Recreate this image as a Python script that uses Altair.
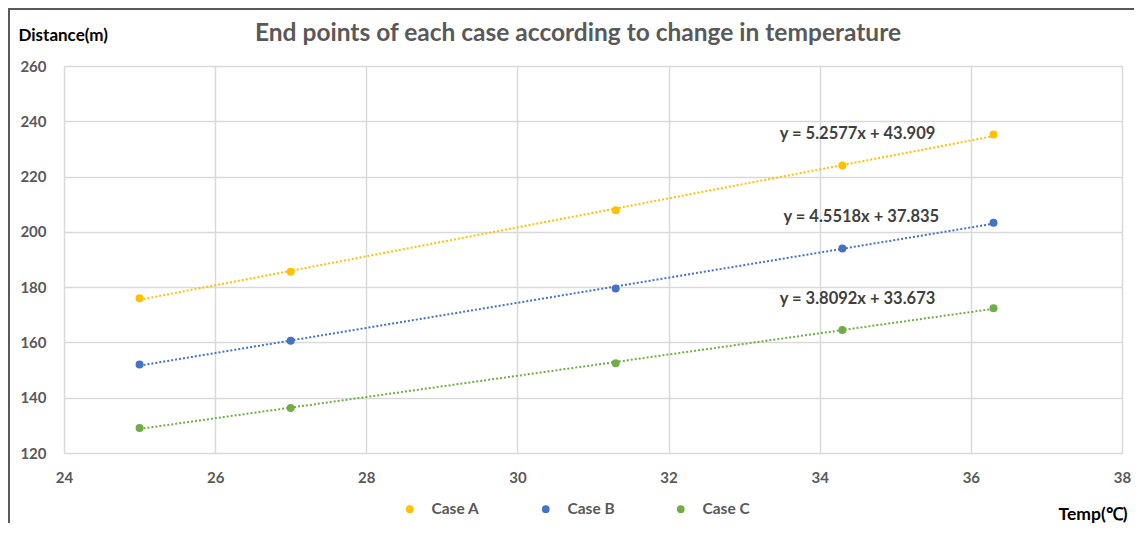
import altair as alt
import pandas as pd

# ---- data ----
cases = ["Case A", "Case B", "Case C"]
temps = [25, 27, 31.3, 34.3, 36.3]
case_a = [176, 185.6, 207.8, 224.0, 235.2]
case_b = [152, 160.6, 179.5, 194.0, 203.3]
case_c = [129, 136.3, 152.5, 164.5, 172.4]
colors = ["#FFC000", "#4472C4", "#70AD47"]

eq_labels = ["y = 5.2577x + 43.909", "y = 4.5518x + 37.835", "y = 3.8092x + 33.673"]
eq_x = [34.5, 34.55, 34.5]
eq_y = [235.5, 205.5, 175.8]

x_ticks = [24, 26, 28, 30, 32, 34, 36, 38]
y_ticks = [120, 140, 160, 180, 200, 220, 240, 260]

rows = []
for name, vals in zip(cases, [case_a, case_b, case_c]):
    for t, v in zip(temps, vals):
        rows.append({"case": name, "temp": t, "dist": v})
df = pd.DataFrame(rows)
eq_df = pd.DataFrame({"case": cases, "ex": eq_x, "ey": eq_y, "label": eq_labels})

FONT = "Lato"
LABEL_COLOR = "#595959"

xscale = alt.Scale(domain=[24, 38], nice=False, zero=False)
yscale = alt.Scale(domain=[120, 260], nice=False, zero=False)
cscale = alt.Scale(domain=cases, range=colors)

x_axis = alt.Axis(
    values=x_ticks, title="Temp(℃)", grid=True, gridColor="#d9d9d9", gridWidth=1.5,
    domain=False, ticks=False, labelFont=FONT, labelFontSize=15, labelFontWeight="bold",
    labelColor=LABEL_COLOR, labelPadding=17, labelFlush=False, titleFont=FONT, titleFontSize=17.5,
    titleFontWeight="bold", titleColor="#000000", titleX=1063, titleY=61,
    titleAlign="right", titleBaseline="middle", titleAnchor="end",
)
y_axis = alt.Axis(
    values=y_ticks, title="Distance(m)", grid=True, gridColor="#d9d9d9", gridWidth=1.5,
    domain=False, ticks=False, labelFont=FONT, labelFontSize=15, labelFontWeight="bold",
    labelColor=LABEL_COLOR, labelPadding=18, labelFlush=False, titleFont=FONT, titleFontSize=17,
    titleFontWeight="bold", titleColor="#000000", titleAngle=0, titleX=-46, titleY=-31,
    titleAlign="left", titleBaseline="middle",
)
legend = alt.Legend(
    title=None, orient="none", direction="horizontal", legendX=338, legendY=435,
    symbolType="circle", symbolSize=60, labelFont=FONT, labelFontSize=15.5,
    labelFontWeight="bold", labelColor=LABEL_COLOR, labelOffset=14,
    columnPadding=58, symbolStrokeWidth=0,
)

X = alt.X("temp:Q", scale=xscale, axis=x_axis, title="Temp(℃)")
Y = alt.Y("dist:Q", scale=yscale, axis=y_axis, title="Distance(m)")
C = alt.Color("case:N", scale=cscale, legend=legend)

border = alt.Chart(alt.Data(values=[{}])).mark_rect(
    fill="white", fillOpacity=0, stroke="#595959", strokeWidth=2
).encode(
    x=alt.value(-55), x2=alt.value(1100), y=alt.value(-57), y2=alt.value(480)
)

points = alt.Chart(df).mark_circle(size=64, opacity=1).encode(x=X, y=Y, color=C)

trend = alt.Chart(df).transform_regression(
    "temp", "dist", groupby=["case"]
).mark_line(strokeDash=[2, 2], strokeWidth=2).encode(x=X, y=Y, color=C)

eqs = alt.Chart(eq_df).mark_text(
    font=FONT, fontSize=16.5, fontWeight="bold", color="#404040", align="center", baseline="middle"
).encode(
    x=alt.X("ex:Q", scale=xscale, axis=x_axis, title="Temp(℃)"),
    y=alt.Y("ey:Q", scale=yscale, axis=y_axis, title="Distance(m)"),
    text="label:N",
)

chart = alt.layer(trend, points, eqs, border).properties(
    width=1058, height=387,
    autosize=alt.AutoSizeParams(type="none"),
    padding={"left": 56, "top": 58, "right": 12, "bottom": 70},
    title=alt.TitleParams(
        "End points of each case according to change in temperature",
        font=FONT, fontSize=24.5, fontWeight="bold", color=LABEL_COLOR,
        anchor="middle", dx=-15, offset=0, dy=38,
    ),
).configure_view(stroke="#d9d9d9", strokeWidth=1.5).configure(background="white")

chart.save("out.html", embed_options={"renderer": "svg", "actions": False})
